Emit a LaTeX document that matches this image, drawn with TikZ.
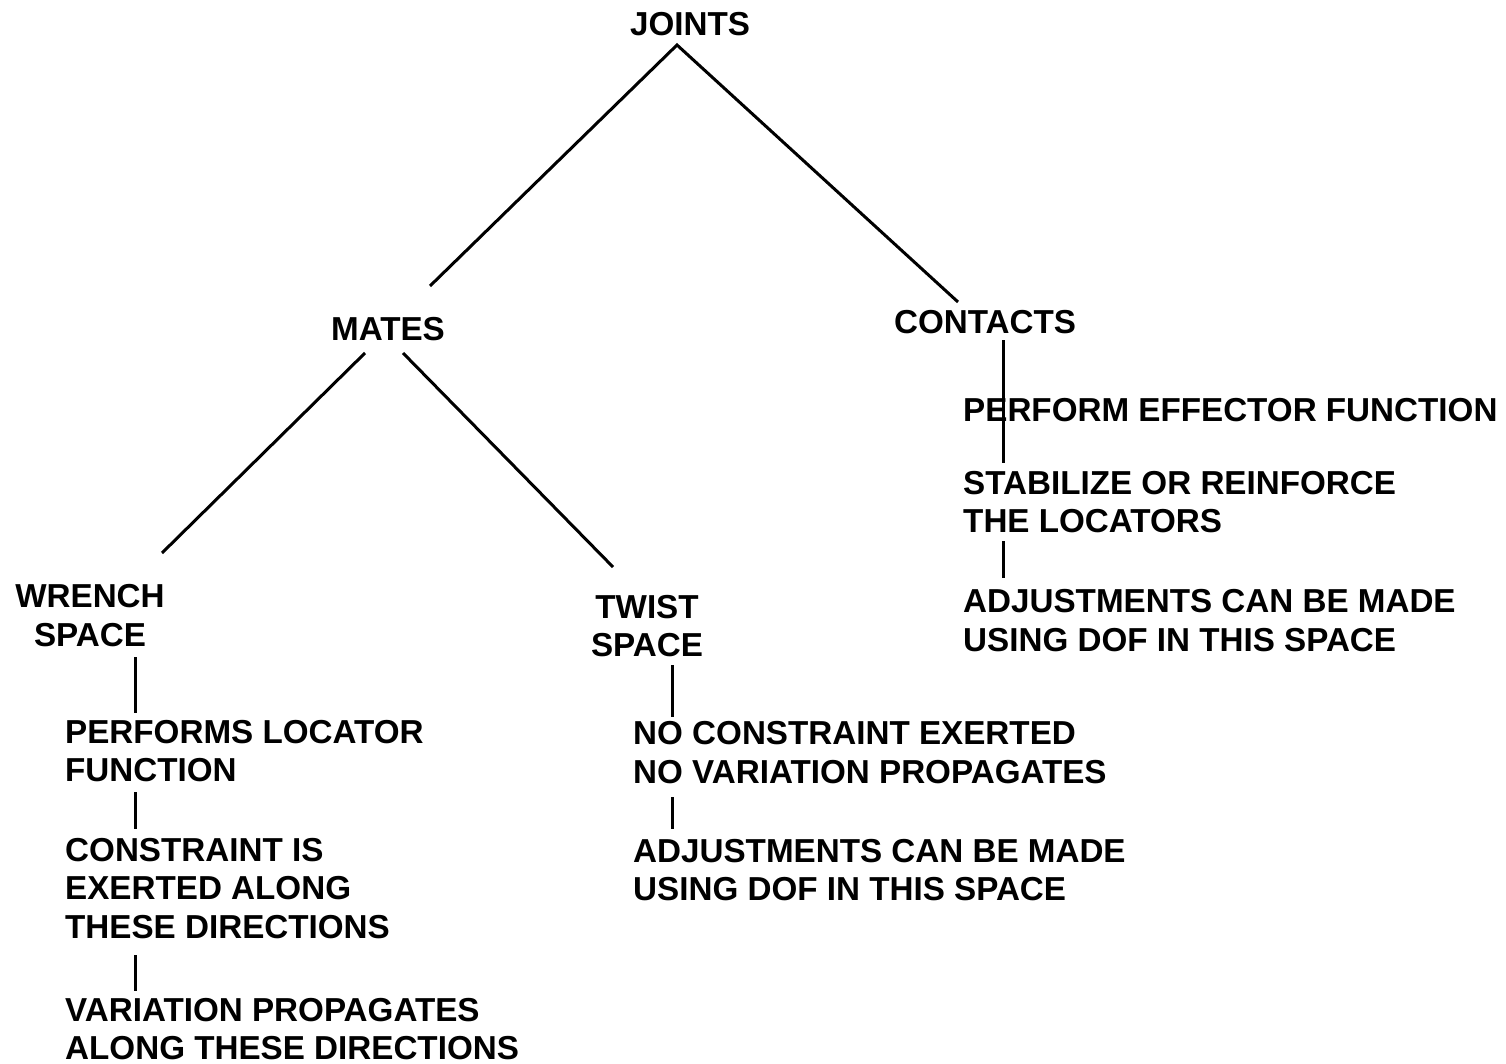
\documentclass[tikz,border=0pt]{standalone}
\usepackage{fontspec}
\setmainfont{Liberation Sans}
\begin{document}
\begin{tikzpicture}[x=1pt,y=-1pt,
  lbl/.style={font=\fontsize{33.2}{38.5}\selectfont\bfseries, inner sep=0pt},
  lft/.style={lbl, align=left, anchor=base west},
  ctr/.style={lbl, align=center, anchor=base},
  conn/.style={line width=3pt}]
\useasboundingbox (0,0) rectangle (1506,1064);
% base anchors are at the baseline of the last line
\node[ctr] (joints) at (690,35.5) {JOINTS};
\node[ctr] (mates) at (388,340) {MATES};
\node[ctr] (contacts) at (985,334) {CONTACTS};
\node[ctr] (wrench) at (90,646) {WRENCH\\SPACE};
\node[ctr] (twist) at (647,656.5) {TWIST\\SPACE};
\node[lft] (perfloc) at (65,781.5) {PERFORMS LOCATOR\\FUNCTION};
\node[lft] (constr) at (65,938) {CONSTRAINT IS\\EXERTED ALONG\\THESE DIRECTIONS};
\node[lft] (varprop) at (65,1059.5) {VARIATION PROPAGATES\\ALONG THESE DIRECTIONS};
\node[lft] (nocon) at (633,783) {NO CONSTRAINT EXERTED\\NO VARIATION PROPAGATES};
\node[lft] (adjt) at (633,900.5) {ADJUSTMENTS CAN BE MADE\\USING DOF IN THIS SPACE};
\node[lft] (effector) at (963,421) {PERFORM EFFECTOR FUNCTION};
\node[lft] (stab) at (963,532.5) {STABILIZE OR REINFORCE\\THE LOCATORS};
\node[lft] (adjc) at (963,651) {ADJUSTMENTS CAN BE MADE\\USING DOF IN THIS SPACE};
\coordinate (apex) at (677,45);
\draw[conn] (430,286) -- (apex) -- (958,302);
\draw[conn] (365,353) -- (162,553);
\draw[conn] (403,353) -- (613,567);
\draw[conn] (1003,340) -- (1003,463);
\draw[conn] (1003,541) -- (1003,578);
\draw[conn] (135,657) -- (135,713);
\draw[conn] (135,792) -- (135,829);
\draw[conn] (135,955) -- (135,991);
\draw[conn] (672,665) -- (672,717);
\draw[conn] (672,797) -- (672,829);
\end{tikzpicture}
\end{document}
